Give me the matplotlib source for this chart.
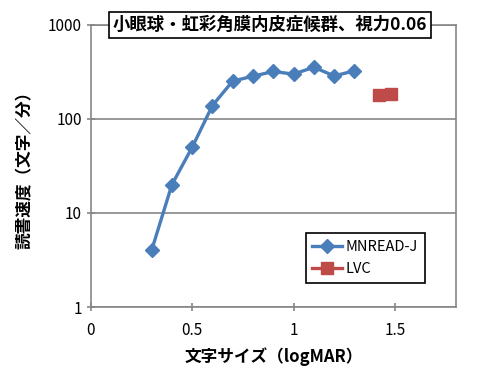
import numpy as np
import matplotlib
matplotlib.use('Agg')
import matplotlib.pyplot as plt

plt.rcParams['font.family'] = ['Noto Sans CJK JP', 'DejaVu Sans']

# MNREAD-J reading speed vs print size
mnread_x = [0.3, 0.4, 0.5, 0.6, 0.7, 0.8, 0.9, 1.0, 1.1, 1.2, 1.3]
mnread_y = [4, 20, 50, 139, 253, 285, 320, 300, 355, 287, 325]

# LVC
lvc_x = [1.42, 1.48]
lvc_y = [178, 185]

title = '小眼球・虹彩角膜内皮症候群、視力0.06'
xlabel = '文字サイズ（logMAR）'
ylabel = '読書速度（文字／分）'
xticks = [0, 0.5, 1, 1.5]
xticklabels = ['0', '0.5', '1', '1.5']
yticks = [1, 10, 100, 1000]
yticklabels = ['1', '10', '100', '1000']

fig = plt.figure(figsize=(4.88, 3.84), dpi=100)
ax = fig.add_axes([0.186, 0.2005, 0.748, 0.7345])

blue = '#4a7ebb'
red = '#be4b48'
ax.plot(mnread_x, mnread_y, color=blue, lw=2.4, marker='D', ms=7,
        label='MNREAD-J', zorder=3)
ax.plot(lvc_x, lvc_y, color=red, lw=2.4, marker='s', ms=9,
        label='LVC', zorder=3)

ax.set_yscale('log')
ax.set_xlim(0, 1.8)
ax.set_ylim(1, 1000)
ax.set_xticks(xticks)
ax.set_xticklabels(xticklabels, fontsize=11)
ax.set_yticks(yticks)
ax.set_yticklabels(yticklabels, fontsize=11)
ax.yaxis.set_minor_locator(matplotlib.ticker.NullLocator())
ax.tick_params(direction='inout', length=6, color='#868686', width=1.2)
ax.tick_params(axis='x', pad=8)

ax.grid(axis='y', color='#868686', lw=1.2)
for s in ax.spines.values():
    s.set_color('#868686')
    s.set_linewidth(1.2)

ax.set_xlabel(xlabel, fontsize=12, fontweight='bold', labelpad=6)
ax.set_ylabel(ylabel, fontsize=12, fontweight='bold', labelpad=10)

ax.text(0.49, 1.0, title, transform=ax.transAxes, ha='center', va='center',
        fontsize=12.5, fontweight='bold',
        bbox=dict(boxstyle='square,pad=0.22', fc='white', ec='black', lw=1.2))

leg = ax.legend(loc='lower right', bbox_to_anchor=(0.915, 0.085),
                borderaxespad=0, fancybox=False, edgecolor='black',
                framealpha=1, fontsize=10.5, handlelength=2.0,
                handletextpad=0.3, borderpad=0.45, labelspacing=0.6)
leg.get_frame().set_linewidth(1.2)

fig.savefig('out.png', dpi=100)
